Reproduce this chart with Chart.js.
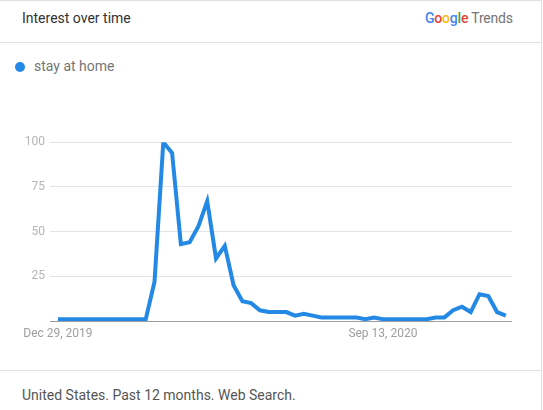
<!DOCTYPE html>
<html>
<head>
<meta charset="utf-8">
<script src="https://cdn.jsdelivr.net/npm/chart.js@4/dist/chart.umd.min.js"></script>
<style>
    html, body { margin: 0; padding: 0; background: #fff; }
    body { width: 543px; height: 410px; position: relative; overflow: hidden; font-family: Roboto, Arial, sans-serif; }
    .card { position: absolute; left: 0; top: 0; width: 541px; height: 410px; border-top: 1px solid #e0e0e0; border-right: 1px solid #e0e0e0; }
    .title { position: absolute; left: 22px; top: 10px; font-size: 14px; color: #333; }
    .brand { position: absolute; left: 425px; top: 10px; font-size: 14px; color: #757575; letter-spacing: -0.2px; }
    .brand b { font-weight: 500; }
    .sep { position: absolute; left: 0; width: 541px; height: 1px; background: #e0e0e0; }
    .legend { position: absolute; left: 15px; top: 58px; font-size: 14px; color: #757575; }
    .legend .dot { display: inline-block; width: 10px; height: 10px; border-radius: 50%; background: #2389e5; margin-right: 9px; vertical-align: -1px; }
    .foot { position: absolute; left: 22px; top: 387px; font-size: 14px; color: #555; }
    #chart-wrap { position: absolute; left: 0; top: 130px; width: 543px; height: 220px; }
</style>
</head>
<body>
<div class="card"></div>
<div class="title">Interest over time</div>
<div class="brand"><b><span style="color:#4285f4">G</span><span style="color:#ea4335">o</span><span style="color:#fbbc05">o</span><span style="color:#4285f4">g</span><span style="color:#34a853">l</span><span style="color:#ea4335">e</span></b> Trends</div>
<div class="sep" style="top:42px"></div>
<div class="legend"><span class="dot"></span>stay at home</div>
<div class="sep" style="top:370px"></div>
<div class="foot">United States. Past 12 months. Web Search.</div>
<div id="chart-wrap"><canvas id="trend"></canvas></div>

<script>
// Semanas (categorias) e valores
const weeks = [
    'Dec 29, 2019', 'Jan 5, 2020', 'Jan 12, 2020', 'Jan 19, 2020', 'Jan 26, 2020',
    'Feb 2, 2020', 'Feb 9, 2020', 'Feb 16, 2020', 'Feb 23, 2020',
    'Mar 1, 2020', 'Mar 8, 2020', 'Mar 15, 2020', 'Mar 22, 2020', 'Mar 29, 2020',
    'Apr 5, 2020', 'Apr 12, 2020', 'Apr 19, 2020', 'Apr 26, 2020',
    'May 3, 2020', 'May 10, 2020', 'May 17, 2020', 'May 24, 2020', 'May 31, 2020',
    'Jun 7, 2020', 'Jun 14, 2020', 'Jun 21, 2020', 'Jun 28, 2020',
    'Jul 5, 2020', 'Jul 12, 2020', 'Jul 19, 2020', 'Jul 26, 2020',
    'Aug 2, 2020', 'Aug 9, 2020', 'Aug 16, 2020', 'Aug 23, 2020', 'Aug 30, 2020',
    'Sep 6, 2020', 'Sep 13, 2020', 'Sep 20, 2020', 'Sep 27, 2020',
    'Oct 4, 2020', 'Oct 11, 2020', 'Oct 18, 2020', 'Oct 25, 2020',
    'Nov 1, 2020', 'Nov 8, 2020', 'Nov 15, 2020', 'Nov 22, 2020', 'Nov 29, 2020',
    'Dec 6, 2020', 'Dec 13, 2020', 'Dec 20, 2020'
];

const stayAtHome = [
    1, 1, 1, 1, 1, 1, 1, 1, 1, 1, 1,
    22, 100, 94, 43, 44, 53, 67, 35, 42, 20, 11, 10, 6,
    5, 5, 5, 3, 4, 3, 2, 2, 2, 2, 2, 1, 2, 1,
    1, 1, 1, 1, 1, 2, 2, 6, 8, 5, 15, 14, 5, 3
];

const yTicks = [0, 25, 50, 75, 100];
const xTickLabels = ['Dec 29, 2019', 'Sep 13, 2020'];

document.addEventListener('DOMContentLoaded', function() {
    const points = stayAtHome.map((v, i) => ({ x: i, y: v }));

    new Chart(document.getElementById('trend'), {
        type: 'line',
        data: {
            datasets: [{
                label: 'stay at home',
                data: points,
                borderColor: '#2389e5',
                borderWidth: 4,
                pointRadius: 0,
                tension: 0,
                fill: false
            }]
        },
        options: {
            responsive: true,
            maintainAspectRatio: false,
            animation: false,
            layout: { padding: { top: 12, right: 31, left: 0, bottom: 0 } },
            plugins: { legend: { display: false }, tooltip: { enabled: false } },
            scales: {
                x: {
                    type: 'linear',
                    min: -0.9,
                    max: 51.7,
                    afterBuildTicks: function(scale) {
                        scale.ticks = xTickLabels.map(l => ({ value: weeks.indexOf(l) }));
                    },
                    afterFit: function(scale) { scale.height = 29; },
                    grid: { display: false },
                    border: { display: false },
                    ticks: {
                        autoSkip: false,
                        maxRotation: 0,
                        padding: -2,
                        color: '#9e9e9e',
                        font: { family: 'Roboto', size: 12 },
                        callback: function(value) { return weeks[value]; }
                    }
                },
                y: {
                    min: 0,
                    max: 100,
                    afterBuildTicks: function(scale) {
                        scale.ticks = yTicks.map(v => ({ value: v }));
                    },
                    afterFit: function(scale) { scale.width = 50; },
                    border: { display: false },
                    grid: {
                        drawTicks: false,
                        color: function(ctx) { return ctx.tick && ctx.tick.value === 0 ? '#9e9e9e' : '#e4e4e4'; },
                        lineWidth: 1
                    },
                    ticks: {
                        padding: 5,
                        color: '#b5b5b5',
                        font: { family: 'Roboto', size: 12 },
                        callback: function(value) { return value === 0 ? '' : value; }
                    }
                }
            }
        }
    });
});
</script>
</body>
</html>
